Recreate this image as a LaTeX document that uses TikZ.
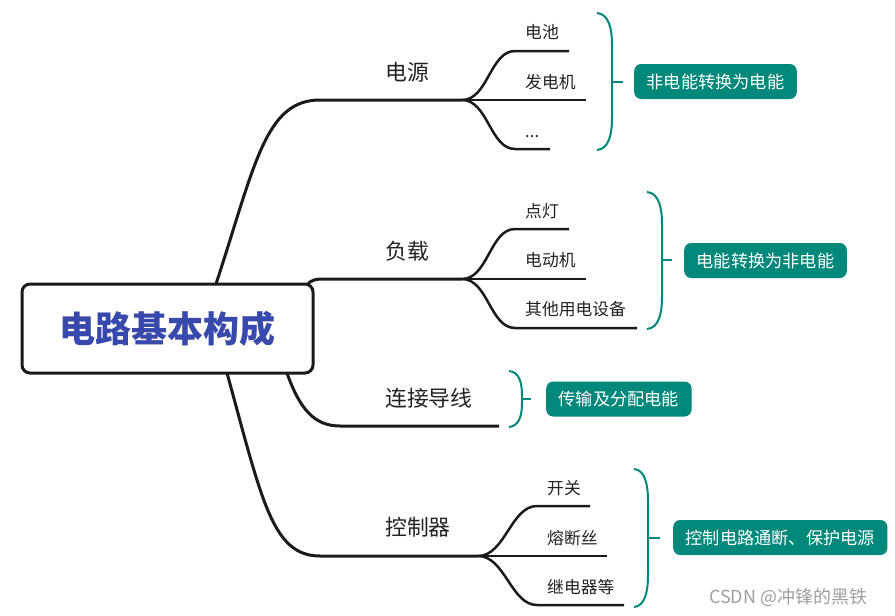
\documentclass[tikz,border=0pt]{standalone}
\usepackage{fontspec}
\setmainfont{Noto Sans CJK SC}
\definecolor{tealc}{RGB}{0,137,123}
\definecolor{rootblue}{RGB}{57,73,171}
\definecolor{linec}{RGB}{26,26,26}
\definecolor{txtc}{RGB}{34,34,34}
\newcommand{\bracepath}[7]{% left x, top y, bottom y, mid y, tip x, width, curve length
  \draw[bracestyle] (#1,#2) .. controls (#1+#6*0.8,#2+1) and (#1+#6,#2+#7*0.5) .. (#1+#6,#2+#7)
    -- (#1+#6,#3-#7) .. controls (#1+#6,#3-#7*0.5) and (#1+#6*0.8,#3-1) .. (#1,#3);
  \draw[bracestyle] (#1+#6,#4) -- (#5,#4);}
\begin{document}
\begin{tikzpicture}[x=1pt,y=-1pt,
  mainline/.style={draw=linec,line width=3pt},
  subline/.style={draw=linec,line width=2.5pt},
  bracestyle/.style={draw=tealc,line width=2pt},
  rootbox/.style={draw=linec,line width=3pt,rounded corners=8pt,fill=white,
    minimum width=291pt,minimum height=89pt,inner sep=0pt,
    text=rootblue,font=\fontsize{36}{40}\selectfont\bfseries},
  mainlbl/.style={anchor=west,inner sep=0pt,text=txtc,font=\fontsize{21.8}{24}\selectfont},
  sublbl/.style={anchor=west,inner sep=0pt,text=txtc,font=\fontsize{16.8}{19}\selectfont},
  note/.style={anchor=west,fill=tealc,rounded corners=7pt,text=white,
    minimum height=35pt,inner xsep=12.5pt,inner ysep=0pt,font=\fontsize{17.2}{20}\selectfont},
  wm/.style={anchor=west,inner sep=0pt,text=black!38,font=\fontsize{18}{20}\selectfont}]
\useasboundingbox (0,0) rectangle (895,616);

% root
\node[rootbox] (root) at (167.5,328.5) {电路基本构成};

% branch points and ends
\coordinate (r1) at (216,284);
\coordinate (r2) at (307,285);
\coordinate (r3) at (287,373);
\coordinate (r4) at (227,373);
\coordinate (h1) at (320,100);
\coordinate (h2) at (328,279);
\coordinate (h3) at (340,426);
\coordinate (h4) at (320,556);
\coordinate (b1) at (462,100);
\coordinate (b2) at (462,279);
\coordinate (e3) at (499,426);
\coordinate (b4) at (478,556);

\draw[mainline] (r1) .. controls (255,165) and (265,100) .. (h1) -- (b1);
\draw[mainline] (r2) .. controls (312,279) and (316,279) .. (h2) -- (b2);
\draw[mainline] (r3) .. controls (300,410) and (315,426) .. (h3) -- (e3);
\draw[mainline] (r4) .. controls (262,500) and (272,556) .. (h4) -- (b4);

% main labels
\node[mainlbl] (m1) at (385,72) {电源};
\node[mainlbl] (m2) at (385,251) {负载};
\node[mainlbl] (m3) at (385,398) {连接导线};
\node[mainlbl] (m4) at (385,527) {控制器};

% sub-branches of 电源
\coordinate (s11) at (515,51);  \coordinate (e11) at (569,51);
\coordinate (e12) at (586,100);
\coordinate (s13) at (515,149); \coordinate (e13) at (550,149);
\draw[subline] (b1) .. controls +(26,0) and +(-25,0) .. (s11) -- (e11);
\draw[subline] (b1) -- (e12);
\draw[subline] (b1) .. controls +(26,0) and +(-25,0) .. (s13) -- (e13);
\node[sublbl] (t11) at (525,32) {电池};
\node[sublbl] (t12) at (525,82) {发电机};
\node[sublbl,anchor=base west] (t13) at (525,137) {...};

% sub-branches of 负载
\coordinate (s21) at (515,229); \coordinate (e21) at (569,229);
\coordinate (e22) at (586,279);
\coordinate (s23) at (515,328); \coordinate (e23) at (637,328);
\draw[subline] (b2) .. controls +(26,0) and +(-25,0) .. (s21) -- (e21);
\draw[subline] (b2) -- (e22);
\draw[subline] (b2) .. controls +(26,0) and +(-25,0) .. (s23) -- (e23);
\node[sublbl] (t21) at (525,211) {点灯};
\node[sublbl] (t22) at (525,260) {电动机};
\node[sublbl] (t23) at (525,309) {其他用电设备};

% sub-branches of 控制器
\coordinate (s41) at (537,506); \coordinate (e41) at (590,506);
\coordinate (e42) at (607,556);
\coordinate (s43) at (537,605); \coordinate (e43) at (624,605);
\draw[subline] (b4) .. controls +(27,0) and +(-26,0) .. (s41) -- (e41);
\draw[subline] (b4) -- (e42);
\draw[subline] (b4) .. controls +(27,0) and +(-26,0) .. (s43) -- (e43);
\node[sublbl] (t41) at (547,488) {开关};
\node[sublbl] (t42) at (547,538) {熔断丝};
\node[sublbl] (t43) at (547,587) {继电器等};

% braces
\bracepath{597}{13}{150}{82}{623}{15}{32}
\bracepath{647}{192}{329}{260}{672}{15}{32}
\bracepath{509}{371}{427}{399}{531}{13}{24}
\bracepath{634}{469}{607}{538}{660}{14}{32}

% notes
\node[note] (n1) at (634,81.5) {非电能转换为电能};
\node[note] (n2) at (684,260.5) {电能转换为非电能};
\node[note] (n3) at (546,399) {传输及分配电能};
\node[note] (n4) at (673,537.5) {控制电路通断、保护电源};

% watermark
\node[wm] (wmk) at (709,597) {CSDN @冲锋的黑铁};
\end{tikzpicture}
\end{document}
